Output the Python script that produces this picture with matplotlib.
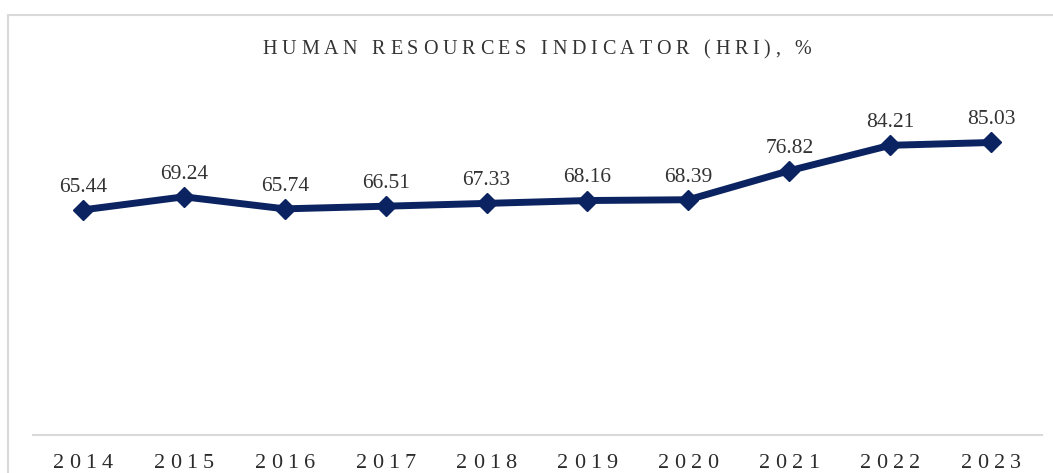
import matplotlib
matplotlib.use("Agg")
import matplotlib.pyplot as plt
from matplotlib import transforms
from matplotlib.font_manager import FontProperties, findfont
from matplotlib.ft2font import FT2Font
from matplotlib.patches import Rectangle

# HRI values by year
years = ["2014", "2015", "2016", "2017", "2018", "2019", "2020", "2021", "2022", "2023"]
hri = [65.44, 69.24, 65.74, 66.51, 67.33, 68.16, 68.39, 76.82, 84.21, 85.03]
title = "HUMAN RESOURCES INDICATOR (HRI), %"

SERIF = ["Liberation Serif", "DejaVu Serif"]
NAVY = "#0b2461"
GRID = "#d9d9d9"


def advances(s, size):
    # per-character advance widths in points
    font = FT2Font(findfont(FontProperties(family=SERIF)))
    font.set_size(size, 72)
    return [font.load_char(ord(c)).linearHoriAdvance / 65536 for c in s]


def spaced_text(fig, x, y, s, transform, size, spacing, color):
    # draw text with extra tracking between letters, centred on x
    adv = advances(s, size)
    total = sum(adv) + spacing * (len(s) - 1)
    pos = -total / 2
    for c, a in zip(s, adv):
        tr = transforms.offset_copy(transform, fig=fig, x=pos, y=0, units="points")
        fig.text(x, y, c, transform=tr, family=SERIF, fontsize=size,
                 color=color, ha="left", va="baseline")
        pos += a + spacing


fig = plt.figure(figsize=(10.53, 4.73), dpi=100)
ax = fig.add_axes([32.5 / 1053, 38 / 473, 1009 / 1053, 344 / 473])

x = list(range(len(years)))
ax.plot(x, hri, color=NAVY, lw=5, marker="D", ms=10.5, mec=NAVY, mew=1,
        solid_joinstyle="round", zorder=3)

for xi, v in zip(x, hri):
    ax.annotate(f"{v:.2f}", (xi, v), xytext=(0, 13), textcoords="offset points",
                ha="center", va="baseline", family=SERIF, fontsize=15.5, color="#333333")

ax.set_xlim(-0.5, len(years) - 0.5)
ax.set_ylim(0, 100)
ax.set_xticks([])
ax.set_yticks([])
for side in ["left", "right", "top"]:
    ax.spines[side].set_visible(False)
ax.spines["bottom"].set_color(GRID)
ax.spines["bottom"].set_linewidth(1.5)

# year labels under the axis
xlab = transforms.blended_transform_factory(ax.transData, ax.transAxes)
for xi, yr in zip(x, years):
    tr = transforms.offset_copy(xlab, fig=fig, x=0, y=-23.5, units="points")
    spaced_text(fig, xi, 0, yr, tr, 16, 3.8, "#2b2b2b")

# title across the plot area
spaced_text(fig, (32.5 + 1009 / 2) / 1053, 419 / 473, title, fig.transFigure, 14.5, 3.4, "#333333")

# chart frame
fig.patches.append(Rectangle((8 / 1053, -0.2), 1.2, 0.2 + 458 / 473, transform=fig.transFigure,
                             fill=False, ec=GRID, lw=1.5))

fig.savefig("out.png", dpi=100)
